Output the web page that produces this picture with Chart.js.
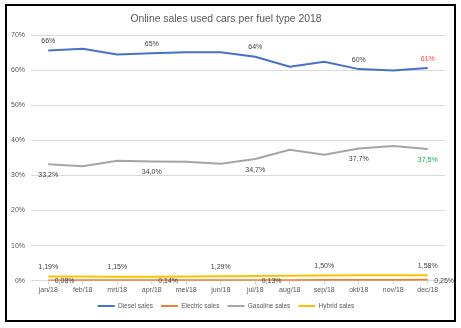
<!DOCTYPE html>
<html>
<head>
<meta charset="utf-8">
<title>Online sales used cars per fuel type 2018</title>
<script src="https://cdn.jsdelivr.net/npm/chart.js@4.4.1/dist/chart.umd.min.js"></script>
<style>
  body { margin: 0; background: #fff; }
  .frame {
    position: absolute;
    left: 5px;
    top: 4px;
    width: 451px;
    height: 318px;
    border: 2px solid #000;
    box-sizing: border-box;
    background: #fff;
  }
  canvas { display: block; }
</style>
</head>
<body>
<div class="frame"><canvas id="fuelChart" width="447" height="314"></canvas></div>
<script>
const months = ["jan/18", "feb/18", "mrt/18", "apr/18", "mei/18", "jun/18",
                "jul/18", "aug/18", "sep/18", "okt/18", "nov/18", "dec/18"];

// share of online used-car sales, in percent
const dieselSales   = [65.6, 66.1, 64.5, 64.8, 65.1, 65.1, 63.8, 61.0, 62.4, 60.3, 59.9, 60.6];
const electricSales = [0.08, 0.10, 0.12, 0.14, 0.13, 0.14, 0.13, 0.15, 0.18, 0.20, 0.22, 0.25];
const gasolineSales = [33.2, 32.6, 34.2, 34.0, 33.9, 33.3, 34.7, 37.3, 35.9, 37.7, 38.4, 37.5];
const hybridSales   = [1.19, 1.17, 1.15, 1.16, 1.20, 1.29, 1.35, 1.42, 1.50, 1.55, 1.56, 1.58];

// which months get a value label
const dieselLabelAt   = [0, 3, 6, 9, 11];
const electricLabelAt = [0, 3, 6, 11];
const gasolineLabelAt = [0, 3, 6, 9, 11];
const hybridLabelAt   = [0, 2, 5, 8, 11];

const yTicks = [0, 10, 20, 30, 40, 50, 60, 70];

const FONT = "'Liberation Sans', Arial, sans-serif";
const GRID = "#d9d9d9";
const TEXT = "#595959";

// writes the value next to selected points, Dutch decimal comma
const pointLabels = {
  id: "pointLabels",
  afterDatasetsDraw(chart) {
    const ctx = chart.ctx;
    ctx.save();
    ctx.font = "7px " + FONT;
    ctx.textBaseline = "middle";
    chart.data.datasets.forEach((ds, i) => {
      const meta = chart.getDatasetMeta(i);
      const opt = ds.valueLabels;
      opt.at.forEach((idx) => {
        const pt = meta.data[idx];
        const text = ds.data[idx].toFixed(opt.decimals).replace(".", ",") + "%";
        ctx.fillStyle = (opt.colors && opt.colors[idx]) || "#404040";
        ctx.textAlign = opt.align;
        ctx.fillText(text, pt.x + opt.dx, pt.y + opt.dy);
      });
    });
    ctx.restore();
  },
};

const lineSet = (label, data, color, valueLabels) => ({
  label,
  data,
  borderColor: color,
  backgroundColor: color,
  borderWidth: 2,
  pointRadius: 0,
  tension: 0,
  valueLabels,
});

new Chart(document.getElementById("fuelChart"), {
  type: "line",
  data: {
    labels: months,
    datasets: [
      lineSet("Diesel sales", dieselSales, "#4472c4",
        { at: dieselLabelAt, decimals: 0, align: "center", dx: 0, dy: -9.5, colors: { 11: "#ff3b3b" } }),
      lineSet("Electric sales", electricSales, "#ed7d31",
        { at: electricLabelAt, decimals: 2, align: "left", dx: 6.5, dy: 1 }),
      lineSet("Gasoline sales", gasolineSales, "#a5a5a5",
        { at: gasolineLabelAt, decimals: 1, align: "center", dx: 0, dy: 11, colors: { 11: "#00b050" } }),
      lineSet("Hybrid sales", hybridSales, "#ffc000",
        { at: hybridLabelAt, decimals: 2, align: "center", dx: 0, dy: -9.5 }),
    ],
  },
  plugins: [pointLabels],
  options: {
    responsive: false,
    devicePixelRatio: 1,
    animation: false,
    layout: { padding: { left: 0, right: 9, top: 0, bottom: 0.8 } },
    plugins: {
      title: {
        display: true,
        text: "Online sales used cars per fuel type 2018",
        color: TEXT,
        font: { family: FONT, size: 10.4, weight: "normal" },
        padding: { top: 6.8, bottom: 9.8 },
      },
      legend: {
        position: "bottom",
        labels: {
          usePointStyle: true,
          pointStyle: "line",
          pointStyleWidth: 17,
          boxHeight: 7,
          padding: 8,
          color: TEXT,
          font: { family: FONT, size: 6.5 },
        },
      },
      tooltip: { enabled: false },
    },
    scales: {
      x: {
        offset: true,
        grid: {
          display: true,
          drawOnChartArea: false,
          drawTicks: true,
          tickLength: 4,
          color: GRID,
        },
        border: { color: GRID },
        ticks: {
          color: TEXT,
          font: { family: FONT, size: 7 },
          padding: 1.5,
          maxRotation: 0,
          autoSkip: false,
        },
        afterFit(scale) { scale.height = 14; },
      },
      y: {
        min: 0,
        max: 70,
        afterBuildTicks(scale) { scale.ticks = yTicks.map((v) => ({ value: v })); },
        grid: { color: GRID, drawTicks: false },
        border: { display: false },
        ticks: {
          color: TEXT,
          font: { family: FONT, size: 7 },
          padding: 6,
          callback: (v) => v + "%",
        },
        afterFit(scale) { scale.width = 24; },
      },
    },
  },
});
</script>
</body>
</html>
